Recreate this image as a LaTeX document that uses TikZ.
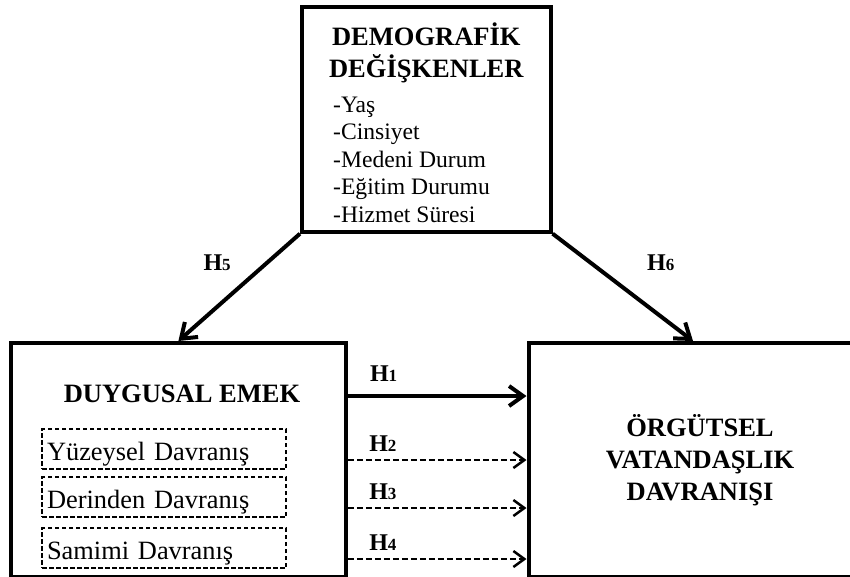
\documentclass[tikz,border=0pt]{standalone}
\usepackage{fontspec}
\setmainfont{Liberation Serif}
\usepackage{tikz}
\usetikzlibrary{positioning, arrows.meta, calc}
\tikzstyle{arrow} = [line width=4pt, -{Straight Barb[length=14pt, width=20pt]}]
\tikzstyle{dasharrow} = [line width=2.5pt, dash pattern=on 6pt off 3pt, -{Straight Barb[length=11pt, width=16pt]}]
\tikzstyle{bigbox} = [rectangle, draw=black, line width=4pt, inner sep=0pt]
\tikzstyle{title} = [inner sep=0pt, align=center, font=\bfseries\fontsize{26.5}{32}\selectfont]
\tikzstyle{listtext} = [inner sep=0pt, align=left, font=\fontsize{23.6}{27.5}\selectfont]
\tikzstyle{subbox} = [rectangle, draw=black, line width=1.5pt, dash pattern=on 4.5pt off 2.5pt, text width=234pt, align=left, inner xsep=5pt, inner ysep=0pt, text height=31pt, text depth=9pt, font=\fontsize{26.4}{30}\selectfont]
\tikzstyle{hlabel} = [inner sep=0pt, font=\bfseries\fontsize{24}{24}\selectfont]
\newcommand{\hyp}[1]{H{\fontsize{17}{17}\selectfont #1}}

\begin{document}
\begin{tikzpicture}[x=1pt, y=-1pt]
        \useasboundingbox (0,0) rectangle (850,576);
        \clip (0,0) rectangle (850,576);

        \node (demo) [bigbox, minimum width=248.7pt, minimum height=224.4pt] at (426.3,119.5) {};
        \node (demotitle) [title, anchor=base] at (426.3,77) {DEMOGRAFİK\\DEĞİŞKENLER};
        \node (demolist) [listtext, anchor=base west] at (333,222) {-Yaş\\-Cinsiyet\\-Medeni Durum\\-Eğitim Durumu\\-Hizmet Süresi};

        \node (emek) [bigbox, minimum width=334.8pt, minimum height=234pt] at (178.4,460) {};
        \node (emektitle) [title, anchor=base] at (182,402) {DUYGUSAL EMEK};
        \node (yuzey) [subbox] at (164,449) {Yüzeysel Davranış};
        \node (derin) [subbox, below=6.5pt of yuzey] {Derinden Davranış};
        \node (samimi) [subbox, below=9.5pt of derin] {Samimi Davranış};

        \node (ovd) [bigbox, title, minimum width=343pt, minimum height=234pt] at (700,460) {ÖRGÜTSEL\\VATANDAŞLIK\\DAVRANIŞI};

        \draw [arrow] (demo.south west) -- node[hlabel, pos=0.339, anchor=base east, xshift=-26pt]{\hyp{5}} (emek.north);
        \draw [arrow] (demo.south east) -- node[hlabel, pos=0.339, anchor=base west, xshift=45pt]{\hyp{6}} ([xshift=-7pt]ovd.north);
        \draw [arrow] ($(emek.east |- emektitle.base)+(0,-6)$) -- node[hlabel, pos=0.113, anchor=base west, yshift=15pt]{\hyp{1}} ($(ovd.west |- emektitle.base)+(0,-6)$);
        \draw [dasharrow] (emek.east |- yuzey.base) -- node[hlabel, pos=0.113, anchor=base west, yshift=9pt]{\hyp{2}} (ovd.west |- yuzey.base);
        \draw [dasharrow] (emek.east |- derin.base) -- node[hlabel, pos=0.113, anchor=base west, yshift=9pt]{\hyp{3}} (ovd.west |- derin.base);
        \draw [dasharrow] (emek.east |- samimi.base) -- node[hlabel, pos=0.113, anchor=base west, yshift=9pt]{\hyp{4}} (ovd.west |- samimi.base);

\end{tikzpicture}
\end{document}
